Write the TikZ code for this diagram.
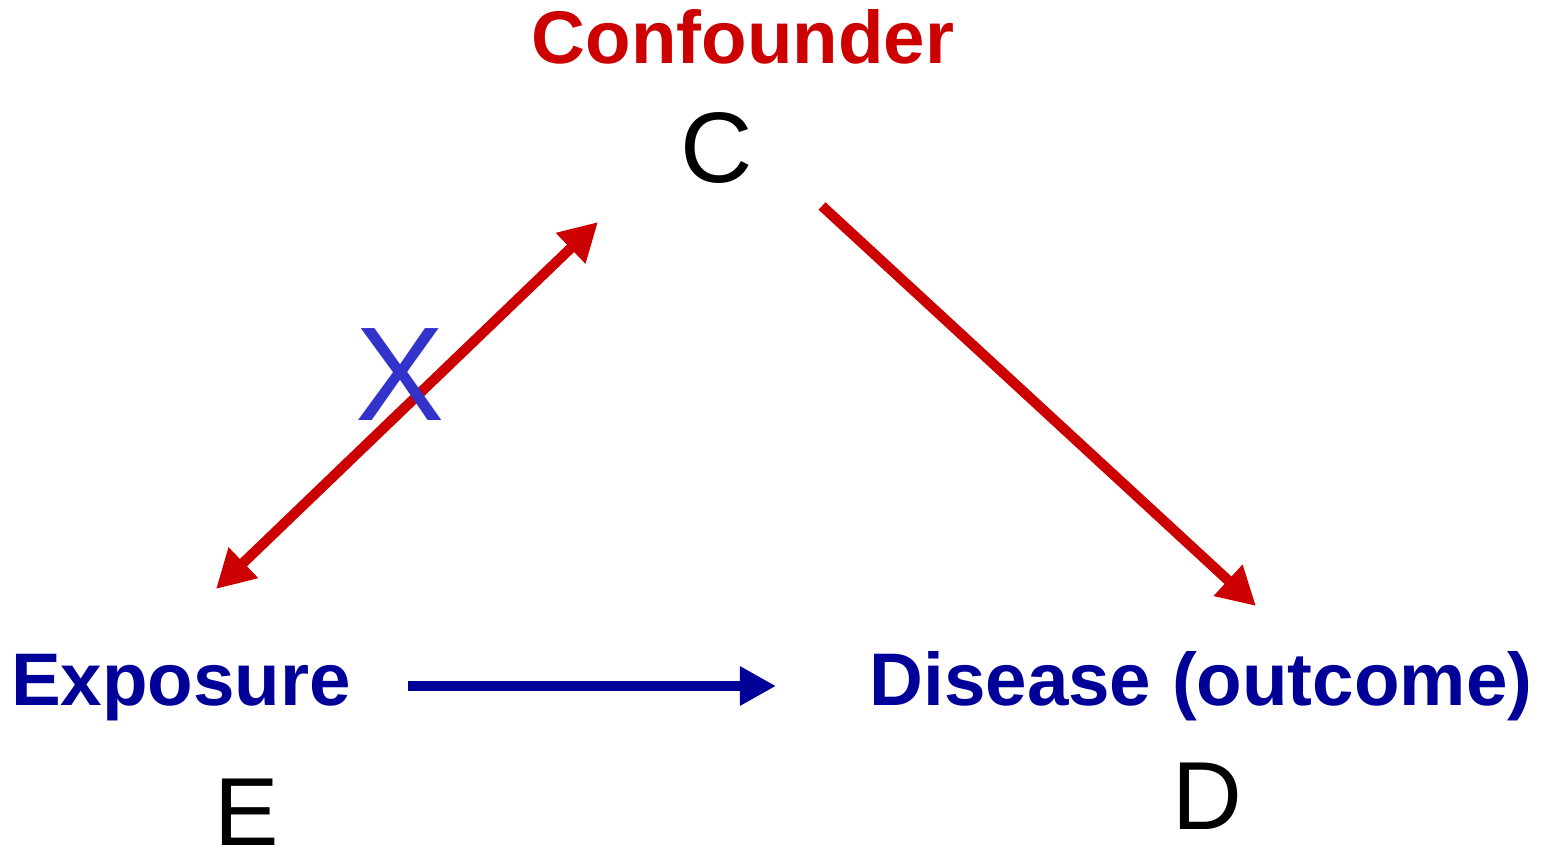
\documentclass[tikz,border=0pt]{standalone}
\usepackage{fontspec}
\setmainfont{Liberation Sans}
\usetikzlibrary{arrows.meta}
\definecolor{cred}{HTML}{CC0000}
\definecolor{cblue}{HTML}{000099}
\definecolor{xblue}{HTML}{3333CC}
\tikzset{
  lab/.style={anchor=base, inner sep=0pt, font=\bfseries\fontsize{21.2}{21.2}\selectfont},
  letter/.style={anchor=base, inner sep=0pt, font=\fontsize{27.5}{27.5}\selectfont, text=black},
  redtip/.style={Triangle[length=0.38cm,width=0.4cm]},
  redarrow/.style={draw=cred, line width=2.9pt, -{Triangle[length=0.38cm,width=0.4cm]}},
  bluearrow/.style={draw=cblue, line width=2.9pt, -{Triangle[length=0.36cm,width=0.37cm]}},
}
\begin{document}
\begin{tikzpicture}[x=0.01cm,y=-0.01cm]
\useasboundingbox (0,0) rectangle (1544,848);
\node[lab, text=cred] (conf) at (743,63) {Confounder};
\node[letter, font=\fontsize{28.5}{28.5}\selectfont] (C) at (717,182) {C};
\node[lab, text=cblue] (expo) at (181,705) {Exposure};
\node[letter] (E) at (247,845) {E};
\node[lab, text=cblue] (dis) at (1201,705) {Disease (outcome)};
\node[letter] (D) at (1207,829) {D};
\coordinate (ce1) at (598,222);
\coordinate (ce2) at (216,589);
\coordinate (cd1) at (822,206);
\coordinate (cd2) at (1256,606);
\coordinate (ed1) at (408,686);
\coordinate (ed2) at (776,686);
\draw[redarrow, {Triangle[length=0.38cm,width=0.4cm]}-{Triangle[length=0.38cm,width=0.4cm]}] (ce2) -- (ce1);
\draw[redarrow] (cd1) -- (cd2);
\draw[bluearrow] (ed1) -- (ed2);
\node[anchor=base, inner sep=0pt, text=xblue, font=\fontsize{38}{38}\selectfont] (X) at (400,420) {X};
\end{tikzpicture}
\end{document}
